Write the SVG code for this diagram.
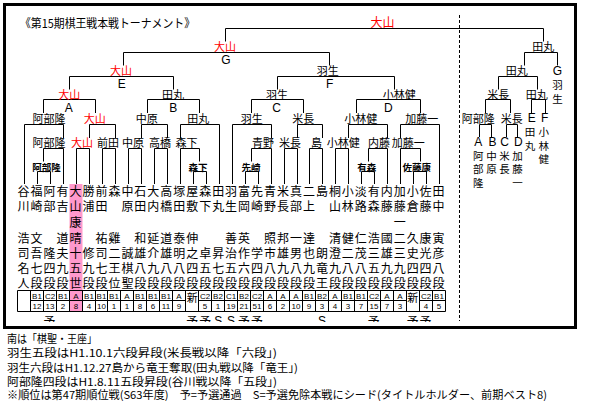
<svg xmlns="http://www.w3.org/2000/svg" width="590" height="401" viewBox="0 0 590 401">
<style>
text{font-family:"Noto Sans CJK JP","Noto Sans CJK SC",sans-serif;font-size:12px;fill:#000}
.m{text-anchor:middle}
.rv{font-size:10.5px;text-anchor:middle}
.lb{font-size:11px;text-anchor:middle}
.red{fill:#f00}
.sm{font-size:9.5px;font-weight:bold;text-anchor:middle}
.lt{font-family:"Liberation Sans",Arial,sans-serif;font-size:12px;text-anchor:middle}
.cl{font-family:"Liberation Sans",Arial,sans-serif;font-size:8px;text-anchor:middle}
.sn{font-size:11px;text-anchor:middle}
.nt{font-size:11px}
.ln{fill:none;stroke:#000;stroke-width:1}
.ds{fill:none;stroke:#000;stroke-width:1;stroke-dasharray:3 2}
</style>
<defs><clipPath id="mk"><rect x="0" y="313" width="590" height="9"/></clipPath></defs>
<rect x="0" y="0" width="590" height="401" fill="#fff"/>
<rect x="69.5" y="184" width="13" height="127.5" fill="#ff99cc"/>
<rect x="4.5" y="4.5" width="571" height="323" fill="none" stroke="#000" stroke-width="3"/>
<text x="20" y="27.5" textLength="175" lengthAdjust="spacingAndGlyphs">《第15期棋王戦本戦トーナメント》</text>

<g id="connectors">
<path class="ln" d="M225.5 41.5V28.5H543.5V41.5M123.5 65.5V52.5H329.5V65.5M69.5 89.5V76.5H173.5V89.5M277.5 89.5V76.5H394.5V89.5M43.5 113V99.5H95.5V113M147.5 113V99.5H199.5V113M251.5 113V99.5H303.5V113M356.5 113V99.5H420.5V113"/>
<path class="ln" d="M24.5 184V124.5H63.5V138M89.5 138V124.5H115.5V138M141.5 138V124.5H167.5V138M180.5 138V124.5H219.5V184M232.5 184V124.5H271.5V138M297.5 138V124.5H322.5V138M348.5 138V124.5H387.5V138M400.5 138V124.5H439.5V184"/>
<path class="ln" d="M43.5 161.5V148.5H63.5V184M76.5 184V148.5H89.5V184M102.5 184V148.5H115.5V184M128.5 184V148.5H141.5V184M154.5 184V148.5H167.5V184M180.5 184V148.5H199.5V161.5M251.5 161.5V148.5H271.5V184M284.5 184V148.5H297.5V184M309.5 184V148.5H322.5V184M335.5 184V148.5H348.5V184M368.5 161.5V148.5H387.5V184M400.5 184V148.5H420.5V161.5"/>
<path class="ln" d="M37.5 184V171.5H50.5V184M193.5 184V171.5H206.5V184M245.5 184V171.5H258.5V184M361.5 184V171.5H374.5V184M413.5 184V171.5H426.5V184"/>
<path class="ln" d="M524.5 65.5V52.5H557.5V65.5M498.5 89.5V76.5H537.5V89.5M485.5 113V99.5H510.5V113M531.5 113V99.5H545.5V113M479.5 137V124.5H491.5V137M506.5 137V124.5H517.5V137"/>
<path class="ds" d="M459.5 15V321"/>
</g>

<g id="winners">
<text class="m red" x="382.5" y="27">大山</text>
<text class="lb red" x="225" y="50.5">大山</text>
<text class="lb" x="543.3" y="50.5">田丸</text>
<text class="lb red" x="121" y="75">大山</text>
<text class="lb" x="327.8" y="75">羽生</text>
<text class="lb" x="516.7" y="75">田丸</text>
<text class="lb red" x="69.3" y="98.5">大山</text>
<text class="lb" x="173" y="98.5">田丸</text>
<text class="lb" x="277" y="98.5">羽生</text>
<text class="lb" x="399.2" y="98.5">小林健</text>
<text class="lb" x="498.3" y="98.5">米長</text>
<text class="lb" x="536.7" y="98.5">田丸</text>
<text class="lb" x="49" y="122.5">阿部隆</text>
<text class="lb red" x="94.7" y="122.5">大山</text>
<text class="lb" x="146.7" y="122.5">中原</text>
<text class="lb" x="198.3" y="122.5">田丸</text>
<text class="lb" x="251.7" y="122.5">羽生</text>
<text class="lb" x="303.3" y="122.5">米長</text>
<text class="lb" x="360.8" y="122.5">小林健</text>
<text class="lb" x="421.7" y="122.5">加藤一</text>
<text class="lb" x="478.3" y="122.5">阿部隆</text>
<text class="lb" x="511.7" y="122.5">米長</text>
<text class="lb" x="49" y="147">阿部隆</text>
<text class="lb red" x="82" y="147">大山</text>
<text class="lb" x="108" y="147">前田</text>
<text class="lb" x="133" y="147">中原</text>
<text class="lb" x="160" y="147">高橋</text>
<text class="lb" x="186.5" y="147">森下</text>
<text class="lb" x="263" y="147">青野</text>
<text class="lb" x="290" y="147">米長</text>
<text class="lb" x="316.5" y="147">島</text>
<text class="lb" x="343.3" y="147">小林健</text>
<text class="lb" x="379" y="147">内藤</text>
<text class="lb" x="408.3" y="147">加藤一</text>
<text class="sm" x="46.5" y="170.5">阿部隆</text>
<text class="sm" x="198" y="170.5">森下</text>
<text class="sm" x="251" y="170.5">先崎</text>
<text class="sm" x="366.7" y="170.5">有森</text>
<text class="sm" x="416.7" y="170.5">佐藤康</text>
</g>

<g id="letters">
<text class="lt" x="225.8" y="63.5">G</text>
<text class="lt" x="121.7" y="87.5">E</text>
<text class="lt" x="329.7" y="87.5">F</text>
<text class="lt" x="68.8" y="111.5">A</text>
<text class="lt" x="173.3" y="111.5">B</text>
<text class="lt" x="276.7" y="111.5">C</text>
<text class="lt" x="388.3" y="111.5">D</text>
</g>

<g id="summary">
<text class="lt" x="557.5" y="75">G</text>
<text class="rv" x="557.5" y="89">羽</text>
<text class="rv" x="557.5" y="102.5">生</text>
<text class="lt" x="531.7" y="121.7">E</text>
<text class="lt" x="544.7" y="121.7">F</text>
<text class="rv" x="530" y="136">田</text>
<text class="rv" x="530" y="149.5">丸</text>
<text class="rv" x="543.8" y="136">小</text>
<text class="rv" x="543.8" y="149.5">林</text>
<text class="rv" x="543.8" y="163">健</text>
<text class="lt" x="478.3" y="146">A</text>
<text class="lt" x="492.5" y="146">B</text>
<text class="lt" x="504.5" y="146">C</text>
<text class="lt" x="518.3" y="146">D</text>
<text class="rv" x="478.3" y="160">阿</text>
<text class="rv" x="478.3" y="173">部</text>
<text class="rv" x="478.3" y="186.5">隆</text>
<text class="rv" x="491.5" y="160">中</text>
<text class="rv" x="491.5" y="173">原</text>
<text class="rv" x="504.5" y="160">米</text>
<text class="rv" x="504.5" y="173">長</text>
<text class="rv" x="517.5" y="160">加</text>
<text class="rv" x="517.5" y="173">藤</text>
<text class="rv" x="517.5" y="186.5">一</text>
</g>

<g id="players">
<g id="p1"><text class="m" x="23.6 23.6 23.6 23.6 23.6 23.6" y="195.5 211 242.5 257.5 272.5 287.5">谷川浩司名人</text></g>
<g id="p2"><text class="m" x="36.6 36.6 36.6 36.6 36.6 36.6" y="195.5 211 242.5 257.5 272.5 287.5">福崎文吾七段</text></g>
<g id="p3"><text class="m" x="49.5 49.5 49.5 49.5 49.5" y="195.5 211 257.5 272.5 287.5">阿部隆四段</text></g>
<g id="p4"><text class="m" x="62.5 62.5 62.5 62.5 62.5 62.5" y="195.5 211 242.5 257.5 272.5 287.5">有吉道夫九段</text></g>
<g id="p5"><text class="m" x="75.5 75.5 75.5 75.5 75.5 75.5 75.5" y="195.5 211 226.5 242.5 257.5 272.5 287.5">大山康晴十五世</text></g>
<g id="p6"><text class="m" x="88.5 88.5 88.5 88.5 88.5" y="195.5 211 257.5 272.5 287.5">勝浦修九段</text></g>
<g id="p7"><text class="m" x="101.4 101.4 101.4 101.4 101.4 101.4" y="195.5 211 242.5 257.5 272.5 287.5">前田祐司七段</text></g>
<g id="p8"><text class="m" x="114.4 114.4 114.4 114.4 114.4" y="195.5 242.5 257.5 272.5 287.5">森雞二王位</text></g>
<g id="p9"><text class="m" x="127.4 127.4 127.4 127.4 127.4" y="195.5 211 257.5 272.5 287.5">中原誠棋聖</text></g>
<g id="p10"><text class="m" x="140.3 140.3 140.3 140.3 140.3 140.3" y="195.5 211 242.5 257.5 272.5 287.5">石田和雄八段</text></g>
<g id="p11"><text class="m" x="153.3 153.3 153.3 153.3 153.3 153.3" y="195.5 211 242.5 257.5 272.5 287.5">大内延介九段</text></g>
<g id="p12"><text class="m" x="166.3 166.3 166.3 166.3 166.3 166.3" y="195.5 211 242.5 257.5 272.5 287.5">高橋道雄八段</text></g>
<g id="p13"><text class="m" x="179.2 179.2 179.2 179.2 179.2 179.2" y="195.5 211 242.5 257.5 272.5 287.5">塚田泰明八段</text></g>
<g id="p14"><text class="m" x="192.2 192.2 192.2 192.2 192.2 192.2" y="195.5 211 242.5 257.5 272.5 287.5">屋敷伸之四段</text></g>
<g id="p15"><text class="m" x="205.2 205.2 205.2 205.2 205.2" y="195.5 211 257.5 272.5 287.5">森下卓五段</text></g>
<g id="p16"><text class="m" x="218.2 218.2 218.2 218.2 218.2" y="195.5 211 257.5 272.5 287.5">田丸昇七段</text></g>
<g id="p17"><text class="m" x="231.1 231.1 231.1 231.1 231.1 231.1" y="195.5 211 242.5 257.5 272.5 287.5">羽生善治五段</text></g>
<g id="p18"><text class="m" x="244.1 244.1 244.1 244.1 244.1 244.1" y="195.5 211 242.5 257.5 272.5 287.5">富岡英作六段</text></g>
<g id="p19"><text class="m" x="257.1 257.1 257.1 257.1 257.1" y="195.5 211 257.5 272.5 287.5">先崎学四段</text></g>
<g id="p20"><text class="m" x="270 270 270 270 270 270" y="195.5 211 242.5 257.5 272.5 287.5">青野照市八段</text></g>
<g id="p21"><text class="m" x="283 283 283 283 283 283" y="195.5 211 242.5 257.5 272.5 287.5">米長邦雄九段</text></g>
<g id="p22"><text class="m" x="296 296 296 296 296 296" y="195.5 211 242.5 257.5 272.5 287.5">真部一男八段</text></g>
<g id="p23"><text class="m" x="308.9 308.9 308.9 308.9 308.9 308.9" y="195.5 211 242.5 257.5 272.5 287.5">二上達也九段</text></g>
<g id="p24"><text class="m" x="321.9 321.9 321.9 321.9" y="195.5 257.5 272.5 287.5">島朗竜王</text></g>
<g id="p25"><text class="m" x="334.9 334.9 334.9 334.9 334.9 334.9" y="195.5 211 242.5 257.5 272.5 287.5">桐山清澄九段</text></g>
<g id="p26"><text class="m" x="347.8 347.8 347.8 347.8 347.8 347.8" y="195.5 211 242.5 257.5 272.5 287.5">小林健二八段</text></g>
<g id="p27"><text class="m" x="360.8 360.8 360.8 360.8 360.8 360.8" y="195.5 211 242.5 257.5 272.5 287.5">淡路仁茂八段</text></g>
<g id="p28"><text class="m" x="373.8 373.8 373.8 373.8 373.8 373.8" y="195.5 211 242.5 257.5 272.5 287.5">有森浩三五段</text></g>
<g id="p29"><text class="m" x="386.7 386.7 386.7 386.7 386.7 386.7" y="195.5 211 242.5 257.5 272.5 287.5">内藤國雄九段</text></g>
<g id="p30"><text class="m" x="399.7 399.7 399.7 399.7 399.7 399.7 399.7" y="195.5 211 226.5 242.5 257.5 272.5 287.5">加藤一二三九段</text></g>
<g id="p31"><text class="m" x="412.7 412.7 412.7 412.7 412.7 412.7" y="195.5 211 242.5 257.5 272.5 287.5">小倉久史四段</text></g>
<g id="p32"><text class="m" x="425.6 425.6 425.6 425.6 425.6 425.6" y="195.5 211 242.5 257.5 272.5 287.5">佐藤康光四段</text></g>
<g id="p33"><text class="m" x="438.6 438.6 438.6 438.6 438.6 438.6" y="195.5 211 242.5 257.5 272.5 287.5">田中寅彦八段</text></g>
</g>

<g id="table">
<path class="ln" d="M17.5 290.5H445.5V311.5H17.5ZM30.5 300.5H185.5M198.5 300.5H406.5M419.5 300.5H445.5M30.5 290.5V311.5M43.5 290.5V311.5M56.5 290.5V311.5M69.5 290.5V311.5M82.5 290.5V311.5M95.5 290.5V311.5M107.5 290.5V311.5M120.5 290.5V311.5M133.5 290.5V311.5M146.5 290.5V311.5M159.5 290.5V311.5M172.5 290.5V311.5M185.5 290.5V311.5M198.5 290.5V311.5M211.5 290.5V311.5M224.5 290.5V311.5M237.5 290.5V311.5M250.5 290.5V311.5M263.5 290.5V311.5M276.5 290.5V311.5M289.5 290.5V311.5M302.5 290.5V311.5M315.5 290.5V311.5M328.5 290.5V311.5M341.5 290.5V311.5M354.5 290.5V311.5M367.5 290.5V311.5M380.5 290.5V311.5M393.5 290.5V311.5M406.5 290.5V311.5M419.5 290.5V311.5M432.5 290.5V311.5"/>
<g class="cls">
<text class="cl" x="37" y="298.5">B1</text><text class="cl" x="50" y="298.5">C2</text><text class="cl" x="63" y="298.5">B1</text><text class="cl" x="76" y="298.5">A</text><text class="cl" x="89" y="298.5">B1</text><text class="cl" x="101.5" y="298.5">B1</text><text class="cl" x="114" y="298.5">B1</text><text class="cl" x="127" y="298.5">A</text><text class="cl" x="140" y="298.5">B1</text><text class="cl" x="153" y="298.5">B1</text><text class="cl" x="166" y="298.5">B1</text><text class="cl" x="179" y="298.5">A</text>
<text class="cl" x="205" y="298.5">C2</text><text class="cl" x="218" y="298.5">B2</text><text class="cl" x="231" y="298.5">C1</text><text class="cl" x="244" y="298.5">B2</text><text class="cl" x="257" y="298.5">C2</text><text class="cl" x="270" y="298.5">A</text><text class="cl" x="283" y="298.5">A</text><text class="cl" x="296" y="298.5">A</text><text class="cl" x="309" y="298.5">B1</text><text class="cl" x="322" y="298.5">B2</text><text class="cl" x="335" y="298.5">A</text><text class="cl" x="348" y="298.5">B1</text><text class="cl" x="361" y="298.5">B1</text><text class="cl" x="374" y="298.5">C2</text><text class="cl" x="387" y="298.5">A</text><text class="cl" x="400" y="298.5">A</text><text class="cl" x="426" y="298.5">C2</text><text class="cl" x="439" y="298.5">B1</text>
</g>
<g class="num">
<text class="cl" x="37" y="309">12</text><text class="cl" x="50" y="309">13</text><text class="cl" x="63" y="309">2</text><text class="cl" x="76" y="309">8</text><text class="cl" x="89" y="309">4</text><text class="cl" x="101.5" y="309">10</text><text class="cl" x="114" y="309">1</text><text class="cl" x="127" y="309">1</text><text class="cl" x="140" y="309">8</text><text class="cl" x="153" y="309">6</text><text class="cl" x="166" y="309">11</text><text class="cl" x="179" y="309">9</text>
<text class="cl" x="205" y="309">5</text><text class="cl" x="218" y="309">1</text><text class="cl" x="231" y="309">19</text><text class="cl" x="244" y="309">21</text><text class="cl" x="257" y="309">51</text><text class="cl" x="270" y="309">6</text><text class="cl" x="283" y="309">2</text><text class="cl" x="296" y="309">10</text><text class="cl" x="309" y="309">9</text><text class="cl" x="322" y="309">3</text><text class="cl" x="335" y="309">4</text><text class="cl" x="348" y="309">3</text><text class="cl" x="361" y="309">7</text><text class="cl" x="374" y="309">15</text><text class="cl" x="387" y="309">7</text><text class="cl" x="400" y="309">3</text><text class="cl" x="426" y="309">4</text><text class="cl" x="439" y="309">5</text>
</g>
<text class="sn" x="192.2" y="301.5">新</text>
<text class="sn" x="412.7" y="301.5">新</text>
</g>

<g id="marks" clip-path="url(#mk)">
<text class="m" x="49.5" y="326">予</text>
<text class="m" x="192.2" y="326">予</text>
<text class="m" x="205.2" y="326">予</text>
<text class="lt" x="218.2" y="325">S</text>
<text class="lt" x="231.1" y="325">S</text>
<text class="m" x="244.1" y="326">予</text>
<text class="m" x="257.1" y="326">予</text>
<text class="lt" x="321.9" y="325">S</text>
<text class="m" x="373.8" y="326">予</text>
<text class="m" x="412.7" y="326">予</text>
<text class="m" x="425.6" y="326">予</text>
</g>

<g id="notes">
<text class="nt" x="7" y="342.5" textLength="90" lengthAdjust="spacingAndGlyphs">南は「棋聖・王座」</text>
<text class="nt" x="7" y="357" textLength="270" lengthAdjust="spacingAndGlyphs">羽生五段はH1.10.1六段昇段(米長戦以降「六段」)</text>
<text class="nt" x="7" y="371.5" textLength="291" lengthAdjust="spacingAndGlyphs">羽生六段はH1.12.27島から竜王奪取(田丸戦以降「竜王」)</text>
<text class="nt" x="7" y="386" textLength="270" lengthAdjust="spacingAndGlyphs">阿部隆四段はH1.8.11五段昇段(谷川戦以降「五段」)</text>
<text class="nt" x="7" y="399" textLength="540" lengthAdjust="spacingAndGlyphs">※順位は第47期順位戦(S63年度)　予=予選通過　S=予選免除本戦にシード(タイトルホルダー、前期ベスト8)</text>
</g>
</svg>
